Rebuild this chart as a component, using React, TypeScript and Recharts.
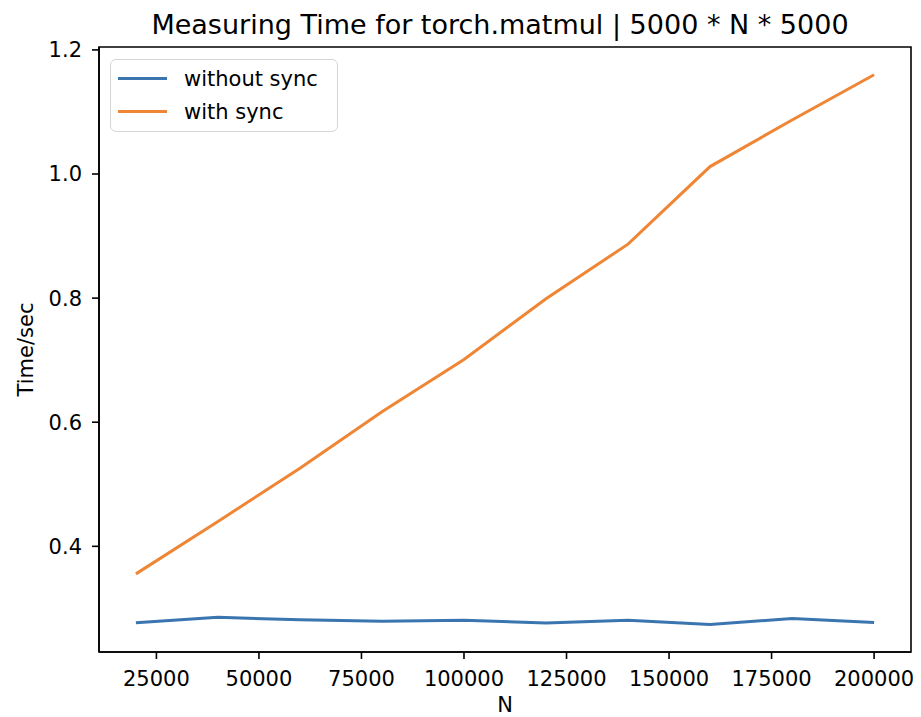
import { LineChart, Line, XAxis, YAxis, Legend, ReferenceArea } from "recharts";

const nValues = [20000, 40000, 60000, 80000, 100000, 120000, 140000, 160000, 180000, 200000];
const withoutSync = [0.277, 0.2857, 0.2815, 0.2792, 0.2808, 0.2766, 0.2808, 0.2739, 0.2836, 0.2771];
const withSync = [0.3556, 0.44, 0.526, 0.617, 0.701, 0.799, 0.887, 1.012, 1.087, 1.16];
const xTicks = [25000, 50000, 75000, 100000, 125000, 150000, 175000, 200000];
const yTicks = [0.4, 0.6, 0.8, 1.0, 1.2];

const X_DOMAIN = [11000, 209000];
const Y_DOMAIN = [0.2297, 1.2047];

const BLUE = "#3b75af";
const ORANGE = "#ef8636";
const FONT = "'DejaVu Sans', sans-serif";

const data = nValues.map((n, i) => ({ n, without: withoutSync[i], with: withSync[i] }));

const seriesInfo = [
  { name: "without sync", color: BLUE },
  { name: "with sync", color: ORANGE },
];

function LegendBox() {
  return (
    <div
      style={{
        width: 228,
        height: 73,
        border: "1.6px solid #d6d6d6",
        borderRadius: 6,
        background: "rgba(255,255,255,0.8)",
        boxSizing: "border-box",
        padding: "2px 0 0 7px",
        fontFamily: FONT,
        fontSize: 21,
      }}
    >
      {seriesInfo.map((s) => (
        <div key={s.name} style={{ display: "flex", alignItems: "center", height: 33 }}>
          <div style={{ width: 49, height: 3, background: s.color, marginRight: 17 }} />
          <span style={{ color: "#000" }}>{s.name}</span>
        </div>
      ))}
    </div>
  );
}

export default function App() {
  const tickStyle = { fill: "#000", fontSize: 21, fontFamily: FONT };
  return (
    <div style={{ position: "fixed", left: 0, top: 0, width: 921, height: 717, background: "#fff", fontFamily: FONT }}>
      <div
        style={{
          position: "absolute",
          left: 89,
          width: 822,
          top: 11,
          textAlign: "center",
          fontSize: 27,
          lineHeight: "27px",
          color: "#000",
          whiteSpace: "nowrap",
        }}
      >
        Measuring Time for torch.matmul | 5000 * N * 5000
      </div>
      <LineChart width={921} height={717} data={data} margin={{ top: 47, right: 10, bottom: 0, left: 0 }}>
        <XAxis
          dataKey="n"
          type="number"
          domain={X_DOMAIN}
          ticks={xTicks}
          allowDataOverflow
          height={65}
          tickSize={7}
          tickMargin={12}
          tick={tickStyle}
          stroke="#000"
          strokeWidth={1.6}
          label={{ value: "N", position: "insideBottom", offset: 5, fill: "#000", fontSize: 21, fontFamily: FONT }}
        />
        <YAxis
          type="number"
          domain={Y_DOMAIN}
          ticks={yTicks}
          allowDataOverflow
          width={99}
          tickSize={7}
          tickMargin={10}
          tick={tickStyle}
          tickFormatter={(v: number) => v.toFixed(1)}
          stroke="#000"
          strokeWidth={1.6}
          label={{ value: "Time/sec", angle: -90, position: "insideLeft", offset: 26, fill: "#000", fontSize: 21, fontFamily: FONT, style: { textAnchor: "middle" } }}
        />
        {/* frame around the plot, matplotlib-style spines */}
        <ReferenceArea
          x1={X_DOMAIN[0]}
          x2={X_DOMAIN[1]}
          y1={Y_DOMAIN[0]}
          y2={Y_DOMAIN[1]}
          fill="none"
          fillOpacity={0}
          stroke="#000"
          strokeWidth={1.6}
          ifOverflow="extendDomain"
        />
        <Legend
          layout="vertical"
          align="center"
          verticalAlign="middle"
          content={() => <LegendBox />}
          wrapperStyle={{ left: 110, top: 59, width: "auto" }}
        />
        <Line dataKey="without" name="without sync" stroke={BLUE} strokeWidth={3} dot={false} isAnimationActive={false} />
        <Line dataKey="with" name="with sync" stroke={ORANGE} strokeWidth={3} dot={false} isAnimationActive={false} />
      </LineChart>
    </div>
  );
}
